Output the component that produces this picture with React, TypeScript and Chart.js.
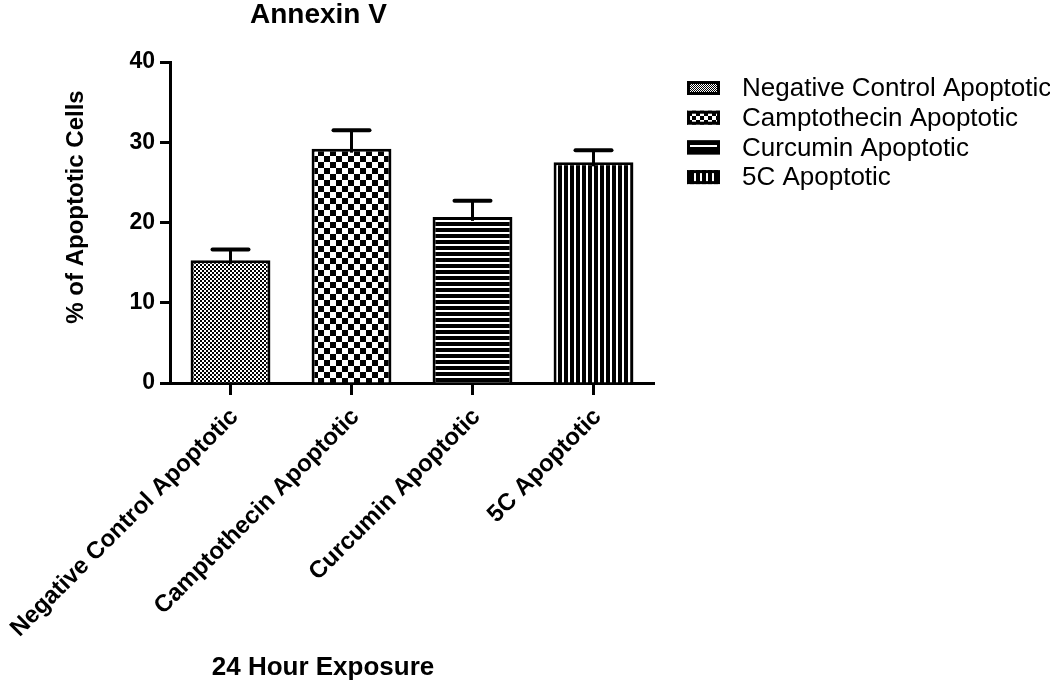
import React, { useEffect, useRef } from "react";
import { Chart, registerables } from "chart.js";

Chart.register(...registerables);

const categories = [
  "Negative Control Apoptotic",
  "Camptothecin Apoptotic",
  "Curcumin Apoptotic",
  "5C Apoptotic",
];
const values = [15.3, 29.2, 20.7, 27.5];
const errors = [1.35, 2.3, 2.0, 1.5];
const yTicks = [0, 10, 20, 30, 40];
const chartTitle = "Annexin V";
const yTitle = "% of Apoptotic Cells";
const xTitle = "24 Hour Exposure";

const FONT = "'Liberation Sans', Arial, Helvetica, sans-serif";

type PatternKind = "fineCheck" | "bigCheck" | "hStripe" | "vStripe";
const patternKinds: PatternKind[] = ["fineCheck", "bigCheck", "hStripe", "vStripe"];

function makePattern(kind: PatternKind, period: number): CanvasPattern | string {
  const c = document.createElement("canvas");
  let w = period, h = period;
  if (kind === "hStripe") { w = 4; }
  if (kind === "vStripe") { h = 4; }
  c.width = w; c.height = h;
  const g = c.getContext("2d");
  if (!g) return "#000";
  g.fillStyle = "#fff";
  g.fillRect(0, 0, w, h);
  g.fillStyle = "#000";
  if (kind === "fineCheck" || kind === "bigCheck") {
    const s = w / 2;
    g.fillRect(0, 0, s, s);
    g.fillRect(s, s, s, s);
  } else if (kind === "hStripe") {
    g.fillRect(0, 0, w, Math.round(h * 0.66));
  } else {
    g.fillRect(0, 0, Math.round(w * 0.66), h);
  }
  const p = g.createPattern(c, "repeat");
  return p || "#000";
}

export default function App() {
  const ref = useRef<HTMLCanvasElement | null>(null);

  useEffect(() => {
    if (!ref.current) return;
    const barPatterns = [
      makePattern("fineCheck", 4),
      makePattern("bigCheck", 12),
      makePattern("hStripe", 6),
      makePattern("vStripe", 6),
    ];
    const legendPatterns = [
      makePattern("fineCheck", 2),
      makePattern("bigCheck", 8),
      makePattern("hStripe", 7),
      makePattern("vStripe", 6),
    ];

    const errPlugin = {
      id: "errorBars",
      afterDatasetsDraw(chart: any) {
        const { ctx } = chart;
        const x = chart.scales.x;
        const y = chart.scales.y;
        ctx.save();
        ctx.strokeStyle = "#000";
        values.forEach((v, i) => {
          const px = x.getPixelForValue(i);
          const top = y.getPixelForValue(v);
          const e = y.getPixelForValue(v + errors[i]);
          ctx.lineWidth = 3;
          ctx.lineCap = "butt";
          ctx.beginPath();
          ctx.moveTo(px, top + 4);
          ctx.lineTo(px, e);
          ctx.stroke();
          ctx.lineWidth = 4;
          ctx.lineCap = "round";
          ctx.beginPath();
          ctx.moveTo(px - 18, e);
          ctx.lineTo(px + 18, e);
          ctx.stroke();
        });
        ctx.restore();
      },
    };

    const textPlugin = {
      id: "texts",
      afterDraw(chart: any) {
        const ctx = chart.ctx as CanvasRenderingContext2D;
        ctx.save();
        ctx.fillStyle = "#000";
        // chart title
        ctx.font = `bold 28px ${FONT}`;
        ctx.textAlign = "left";
        ctx.textBaseline = "alphabetic";
        ctx.fillText(chartTitle, 250, 23);
        // y title
        ctx.save();
        ctx.translate(83, 207);
        ctx.rotate(-Math.PI / 2);
        ctx.textAlign = "center";
        ctx.font = `bold 24px ${FONT}`;
        ctx.fillText(yTitle, 0, 0);
        ctx.restore();
        // x title
        ctx.textAlign = "center";
        ctx.font = `bold 26px ${FONT}`;
        ctx.fillText(xTitle, 323, 675);
        // legend
        ctx.font = `26px ${FONT}`;
        ctx.textAlign = "left";
        ctx.textBaseline = "middle";
        categories.forEach((label, i) => {
          const cy = 88 + i * 29.7;
          ctx.fillStyle = legendPatterns[i] as any;
          ctx.fillRect(687, cy - 7, 33, 14);
          ctx.strokeStyle = "#000";
          ctx.lineWidth = 3;
          ctx.strokeRect(688.5, cy - 5.5, 30, 11);
          ctx.fillStyle = "#000";
          ctx.fillText(label, 742, cy + 1);
        });
        ctx.restore();
      },
    };

    const chart = new Chart(ref.current, {
      type: "bar",
      data: {
        labels: categories,
        datasets: [
          {
            data: values,
            backgroundColor: barPatterns as any,
            borderColor: "#000",
            borderWidth: 3,
            barPercentage: 0.66,
            categoryPercentage: 1,
          },
        ],
      },
      options: {
        animation: false,
        responsive: false,
        devicePixelRatio: 1,
        layout: { padding: { left: 0, top: 62, right: 396, bottom: 0 } },
        plugins: {
          legend: { display: false },
          tooltip: { enabled: false },
          title: { display: false },
        },
        scales: {
          x: {
            grid: {
              display: true,
              drawOnChartArea: false,
              offset: false,
              tickLength: 12,
              tickWidth: 3,
              color: "#000",
            },
            border: { display: true, color: "#000", width: 3 },
            ticks: {
              autoSkip: false,
              minRotation: 45,
              maxRotation: 45,
              color: "#000",
              padding: 8,
              labelOffset: 4,
              font: { family: FONT, size: 24, weight: "bold" },
            },
            afterFit: (s: any) => {
              s.height = 299;
              s.paddingLeft = 0;
              s.paddingRight = 0;
            },
          },
          y: {
            min: 0,
            max: 40,
            grid: {
              drawOnChartArea: false,
              tickLength: 10,
              tickWidth: 3,
              color: "#000",
            },
            border: { display: true, color: "#000", width: 3 },
            ticks: {
              color: "#000",
              padding: 5,
              font: { family: FONT, size: 23, weight: "bold" },
            },
            afterBuildTicks: (s: any) => {
              s.ticks = yTicks.map((v) => ({ value: v }));
            },
            afterFit: (s: any) => {
              s.width = 170;
              s.paddingTop = 0;
              s.paddingBottom = 0;
            },
          },
        },
      } as any,
      plugins: [errPlugin, textPlugin],
    });
    return () => chart.destroy();
  }, []);

  return (
    <div style={{ position: "absolute", left: 0, top: 0, width: 1050, height: 682, background: "#fff" }}>
      <canvas ref={ref} width={1050} height={682} />
    </div>
  );
}
